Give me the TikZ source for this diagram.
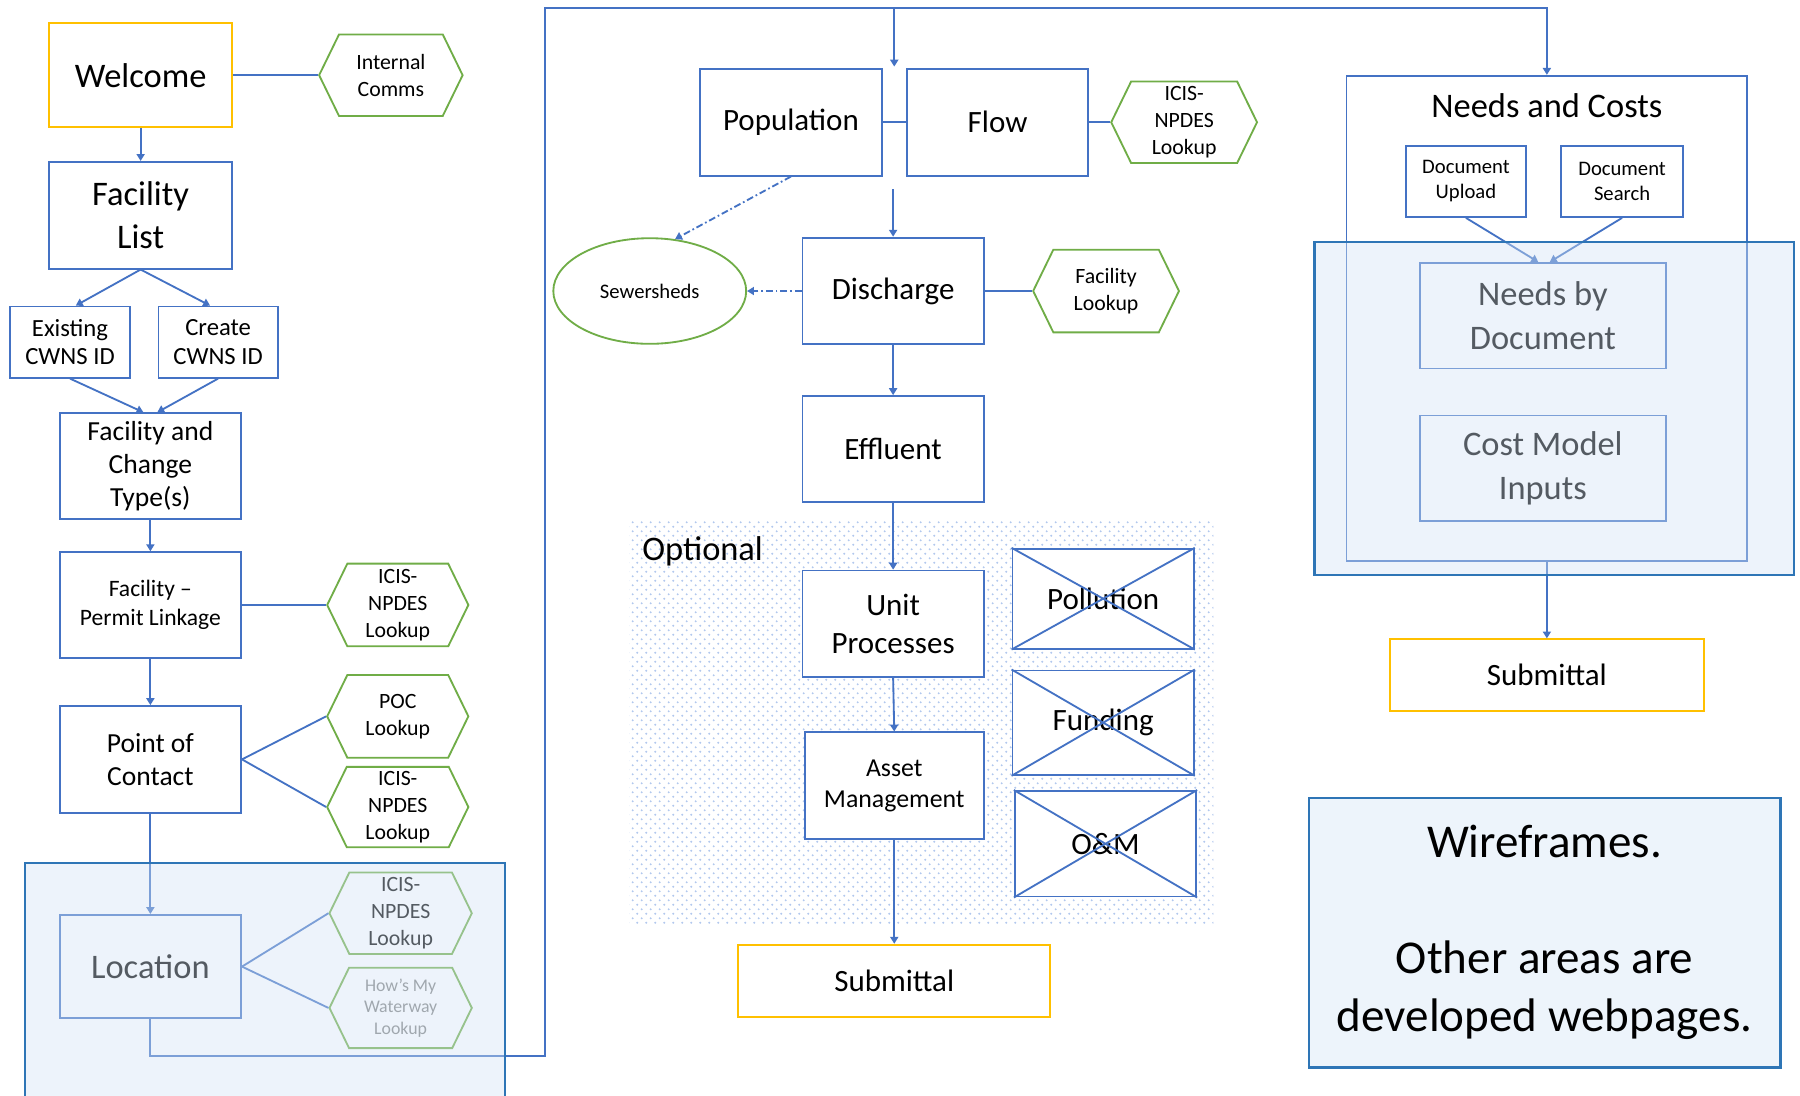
\documentclass[tikz,border=0pt]{standalone}
\usepackage{fontspec}
\setmainfont{Carlito}
\usetikzlibrary{arrows.meta,shapes.geometric,shapes.symbols,patterns,patterns.meta,calc}
\definecolor{bblue}{RGB}{68,114,196}
\definecolor{ggreen}{RGB}{112,173,71}
\definecolor{yyellow}{RGB}{255,192,0}
\definecolor{rborder}{RGB}{46,117,182}
\definecolor{rfill}{RGB}{210,227,245}
\definecolor{wfill}{RGB}{237,244,251}
\definecolor{dotc}{RGB}{178,200,238}
\tikzdeclarepattern{
  name=sdots,
  type=uncolored,
  bottom left={(0pt,0pt)},
  top right={(7.8pt,7.8pt)},
  tile size={(7.8pt,7.8pt)},
  code={
    \fill (1.95pt,1.95pt) circle (0.95pt);
    \fill (5.85pt,5.85pt) circle (0.95pt);
  }
}
\begin{document}
\begin{tikzpicture}[x=1pt,y=-1pt,
  box/.style={draw=bblue,line width=1.6pt,fill=white,align=center,inner sep=1pt,minimum width=158,minimum height=92},
  ybox/.style={draw=yyellow,line width=1.8pt,fill=white,align=center,inner sep=1pt},
  xbox/.style={box},
  hexa/.style={draw=ggreen,line width=1.6pt,fill=white,shape=signal,signal to=west and east,signal pointer angle=128,align=center,inner sep=0pt,minimum width=124,minimum height=71},
  conn/.style={draw=bblue,line width=1.6pt},
  arr/.style={conn,-{Triangle[width=7pt,length=6pt]}},
  dashline/.style={arr,dash pattern=on 6pt off 2.5pt on 1.5pt off 2.5pt},
  f15/.style={font=\fontsize{15.5}{18.5}\selectfont},
  f18/.style={font=\fontsize{18}{22}\selectfont},
  f19/.style={font=\fontsize{19}{23.5}\selectfont},
  f20/.style={font=\fontsize{20.5}{25}\selectfont},
  f21/.style={font=\fontsize{21.5}{24.5}\selectfont},
  f22/.style={font=\fontsize{22.5}{27}\selectfont},
  f24/.style={font=\fontsize{24}{29}\selectfont},
  f27/.style={font=\fontsize{27}{33}\selectfont},
  f30/.style={font=\fontsize{30}{38}\selectfont},
  f41/.style={font=\fontsize{41}{50.5}\selectfont}
]
\useasboundingbox (0,0) rectangle (1568,954);
\fill[white] (0,0) rectangle (1568,954);

% optional region background
\fill[pattern=sdots,pattern color=dotc] (548,453) rectangle (1057,806);
\node[anchor=west,f30] (opt) at (556,480) {Optional};

% ---------- left column ----------
\node[ybox,minimum width=159,minimum height=91,f30] (welcome) at (122.5,65.5) {Welcome};
\node[hexa,minimum width=125,f19] (intcomms) at (340.5,65.5) {Internal\\Comms};
\node[box,minimum width=159,minimum height=93,f30] (faclist) at (122.5,187.5) {Facility\\List};
\node[box,minimum width=104,minimum height=62,f21] (existing) at (61,298) {Existing\\CWNS ID};
\node[box,minimum width=104,minimum height=62,f21] (create) at (190,298) {Create\\CWNS ID};
\node[box,f24] (fct) at (131,406) {Facility and\\Change\\Type(s)};
\node[box,f20] (fpl) at (131,527) {Facility –\\Permit Linkage};
\node[hexa,minimum width=123,minimum height=72,f19] (icis1) at (346.5,527) {ICIS-\\NPDES\\Lookup};
\node[box,minimum height=93,f24] (poc) at (131,661.5) {Point of\\Contact};
\node[hexa,minimum width=123,minimum height=72,f19] (poclk) at (346.5,624) {POC\\Lookup};
\node[hexa,minimum width=123,minimum height=70,f19] (icis2) at (346.5,703) {ICIS-\\NPDES\\Lookup};
\node[box,minimum height=90,f30] (location) at (131,842) {Location};
\node[hexa,f19] (icis3) at (349,795.5) {ICIS-\\NPDES\\Lookup};
\node[hexa,minimum height=70,f15,text=gray] (hmw) at (349,878) {How’s My\\Waterway\\Lookup};

\draw[conn] (welcome.east) -- (intcomms.west);
\draw[arr] (welcome.south) -- (faclist.north);
\draw[arr] (faclist.south) -- ([xshift=5pt]existing.north);
\draw[arr] (faclist.south) -- ([xshift=-7pt]create.north);
\draw[arr] (existing.south) -- ([xshift=-6pt]fct.north);
\draw[arr] (create.south) -- ([xshift=6pt]fct.north);
\draw[arr] (fct.south) -- (fpl.north);
\draw[conn] (fpl.east) -- (icis1.west);
\draw[arr] (fpl.south) -- (poc.north);
\draw[conn] (poc.east) -- (poclk.west);
\draw[conn] (poc.east) -- (icis2.west);
\draw[arr] (poc.south) -- (location.north);
\draw[conn] (location.east) -- (icis3.west);
\draw[conn] (location.east) -- (hmw.west);

% ---------- middle column ----------
\node[box,minimum height=93,f27] (pop) at (689,106.5) {Population};
\node[box,minimum height=93,f27] (flow) at (869,106.5) {Flow};
\node[hexa,minimum width=127,f19] (icisflow) at (1031.5,106.5) {ICIS-\\NPDES\\Lookup};
\node[box,minimum height=93,f27] (disch) at (778,253.5) {Discharge};
\node[hexa,minimum width=127,minimum height=72,f19] (faclk) at (963.5,253.5) {Facility\\Lookup};
\node[draw=ggreen,line width=1.6pt,fill=white,ellipse,minimum width=168,minimum height=92,inner sep=0pt,f18] (sew) at (566,253.5) {Sewersheds};
\node[box,f27] (eff) at (778,391) {Effluent};
\node[box,minimum height=93,f27] (unit) at (778,543.5) {Unit\\Processes};
\node[box,minimum width=156,minimum height=93,f22] (asset) at (779,684.5) {Asset\\Management};
\node[ybox,minimum width=272,minimum height=63,f27] (sub1) at (779,854.5) {Submittal};
\node[xbox,minimum height=87,f27] (poll) at (961,521.5) {Pollution};
\node[xbox,minimum height=91,f27] (fund) at (961,629.5) {Funding};
\node[xbox,minimum height=92,f27] (om) at (963,735) {O\&M};
\foreach \n in {poll,fund,om}{
  \draw[conn] (\n.north west) -- (\n.south east) (\n.north east) -- (\n.south west);
}

\coordinate (lb) at (475,920);
\coordinate (lt) at (475,7);
\coordinate (tj) at (779,7);
\coordinate (pf) at (779,58);
\coordinate (dtop) at (778,165);

\draw[conn] (pop.east) -- (flow.west);
\draw[conn] (flow.east) -- (icisflow.west);
\draw[arr] (tj) -- (pf);
\draw[arr] (dtop) -- (disch.north);
\draw[conn] (disch.east) -- (faclk.west);
\draw[dashline] (pop.south) -- (sew.64);
\draw[dashline] (disch.west) -- (sew.east);
\draw[arr] (disch.south) -- (eff.north);
\draw[arr] (eff.south) -- (unit.north);
\draw[arr] (unit.south) -- (asset.north);
\draw[arr] (asset.south) -- (sub1.north);

% ---------- right column ----------
\node[draw=bblue,line width=1.6pt,fill=white,minimum width=349,minimum height=423,inner sep=0pt] (needs) at (1347.5,277.5) {};
\node[f30] (needstitle) at (1347.5,92) {Needs and Costs};
\node[box,minimum width=104,minimum height=62,f18] (docup) at (1277,158) {Document\\Upload};
\node[box,minimum width=106,minimum height=62,f18] (docsr) at (1413,158) {Document\\Search};
\node[box,minimum width=214,minimum height=92,f30] (nbd) at (1344,275) {Needs by\\Document};
\node[box,minimum width=214,minimum height=92,f30] (cmi) at (1344,408) {Cost Model\\Inputs};
\node[ybox,minimum width=274,minimum height=62,f27] (sub2) at (1347.5,588) {Submittal};
\draw[arr] (docup.south) -- ([xshift=-4pt]nbd.north);
\draw[arr] (docsr.south) -- ([xshift=6pt]nbd.north);
\draw[arr] (needs.south) -- (sub2.north);

% long connector
\draw[arr] (location.south) |- (lb) -- (lt) -| (needs.north);

% ---------- wireframe overlays ----------
\fill[rfill,fill opacity=0.4] (22,752) rectangle (440,975);
\draw[rborder,line width=2pt] (22,752) rectangle (440,975);
\fill[rfill,fill opacity=0.4] (1145,211) rectangle (1563,501);
\draw[rborder,line width=2pt] (1145,211) rectangle (1563,501);

\node[draw=rborder,line width=2pt,fill=wfill,minimum width=411,minimum height=235,align=center,f41] (wire) at (1345.5,812.5) {Wireframes.\\\mbox{}\\Other areas are\\developed webpages.};
\end{tikzpicture}
\end{document}
